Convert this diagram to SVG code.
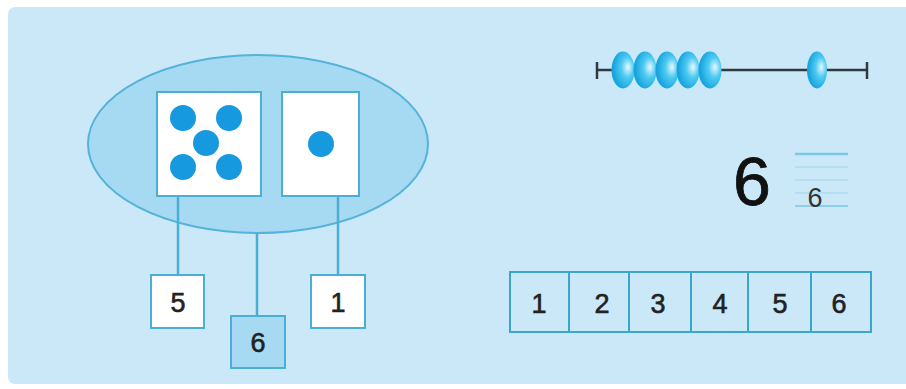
<svg xmlns="http://www.w3.org/2000/svg" width="906" height="389" viewBox="0 0 906 389">
<defs>
<style>
.ln{stroke:#4aaed5;stroke-width:2.5;fill:none}
.card{fill:#fff;stroke:#4aaed5;stroke-width:2}
.dot{fill:#1799e0}
.box{fill:#fff;stroke:#4aaed5;stroke-width:2}
.num{font-family:"Liberation Sans",Arial,sans-serif;font-size:27px;fill:#222;stroke:#222;stroke-width:0.6;text-anchor:middle}
.cell{fill:#cbe8f8;stroke:#3aa6cc;stroke-width:2}
.bead{fill:url(#bg)}
</style>
<radialGradient id="bg" cx="0.68" cy="0.45" r="0.6" fx="0.72" fy="0.42">
<stop offset="0" stop-color="#e6f8ff"/>
<stop offset="0.45" stop-color="#4fcbf2"/>
<stop offset="1" stop-color="#18a5de"/>
</radialGradient>
</defs>
<rect x="8" y="7" width="906" height="377" rx="7" fill="#cbe8f8"/>
<g id="set">
<ellipse cx="258" cy="144" rx="170" ry="89" fill="#a5daf2" stroke="#55b2d8" stroke-width="2"/>
</g>
<g id="connectors">
<line class="ln" x1="178" y1="196" x2="178" y2="275"/>
<line class="ln" x1="257" y1="233" x2="257" y2="316"/>
<line class="ln" x1="338" y1="196" x2="338" y2="275"/>
</g>
<g id="card5">
<rect class="card" x="157" y="92" width="104" height="104"/>
<circle class="dot" cx="183" cy="118" r="13"/>
<circle class="dot" cx="229" cy="118" r="13"/>
<circle class="dot" cx="206" cy="143" r="13"/>
<circle class="dot" cx="183" cy="167" r="13"/>
<circle class="dot" cx="229" cy="167" r="13"/>
</g>
<g id="card1">
<rect class="card" x="282" y="92" width="77" height="104"/>
<circle class="dot" cx="321" cy="144" r="13"/>
</g>
<g id="box5">
<rect class="box" x="151" y="275" width="53" height="53"/>
<text class="num" x="178" y="312">5</text>
</g>
<g id="box1">
<rect class="box" x="311" y="275" width="54" height="53"/>
<text class="num" x="338" y="312">1</text>
</g>
<g id="box6">
<rect class="box" x="231" y="316" width="54" height="52" style="fill:#a5daf2"/>
<text class="num" x="258" y="352">6</text>
</g>
<g id="abacus">
<line x1="597" y1="70" x2="867" y2="70" stroke="#2f3b40" stroke-width="2.5"/>
<line x1="597" y1="62" x2="597" y2="79" stroke="#2f3b40" stroke-width="2.5"/>
<line x1="867" y1="62" x2="867" y2="79" stroke="#2f3b40" stroke-width="2.5"/>
<ellipse class="bead" cx="623" cy="70" rx="11.5" ry="18.5"/>
<ellipse class="bead" cx="645" cy="70" rx="11.5" ry="18.5"/>
<ellipse class="bead" cx="667" cy="70" rx="11.5" ry="18.5"/>
<ellipse class="bead" cx="688" cy="70" rx="11.5" ry="18.5"/>
<ellipse class="bead" cx="710" cy="70" rx="11.5" ry="18.5"/>
<ellipse class="bead" cx="817" cy="70" rx="10" ry="18.5"/>
</g>
<g id="writing">
<text x="752" y="205" font-family="Liberation Sans,Arial,sans-serif" font-size="68" fill="#111" stroke="#111" stroke-width="0.8" text-anchor="middle">6</text>
<line x1="795" y1="154" x2="848" y2="154" stroke="#7cc6e6" stroke-width="2.5"/>
<line x1="795" y1="167" x2="848" y2="167" stroke="#9fd4ec" stroke-width="1.2"/>
<line x1="795" y1="180" x2="848" y2="180" stroke="#9fd4ec" stroke-width="1.2"/>
<line x1="795" y1="193" x2="848" y2="193" stroke="#9fd4ec" stroke-width="1.2"/>
<line x1="795" y1="206" x2="848" y2="206" stroke="#7cc6e6" stroke-width="1.5"/>
<text x="815" y="207" font-family="Liberation Sans,Arial,sans-serif" font-size="27" fill="#333" text-anchor="middle">6</text>
</g>
<g id="numberline">
<rect class="cell" x="510" y="272" width="59" height="60"/>
<rect class="cell" x="569" y="272" width="60" height="60"/>
<rect class="cell" x="629" y="272" width="62" height="60"/>
<rect class="cell" x="691" y="272" width="57" height="60"/>
<rect class="cell" x="748" y="272" width="63" height="60"/>
<rect class="cell" x="811" y="272" width="60" height="60"/>
<text class="num" x="539" y="313">1</text>
<text class="num" x="602" y="313">2</text>
<text class="num" x="658" y="313">3</text>
<text class="num" x="720" y="313">4</text>
<text class="num" x="780" y="313">5</text>
<text class="num" x="839" y="313">6</text>
</g>
</svg>
